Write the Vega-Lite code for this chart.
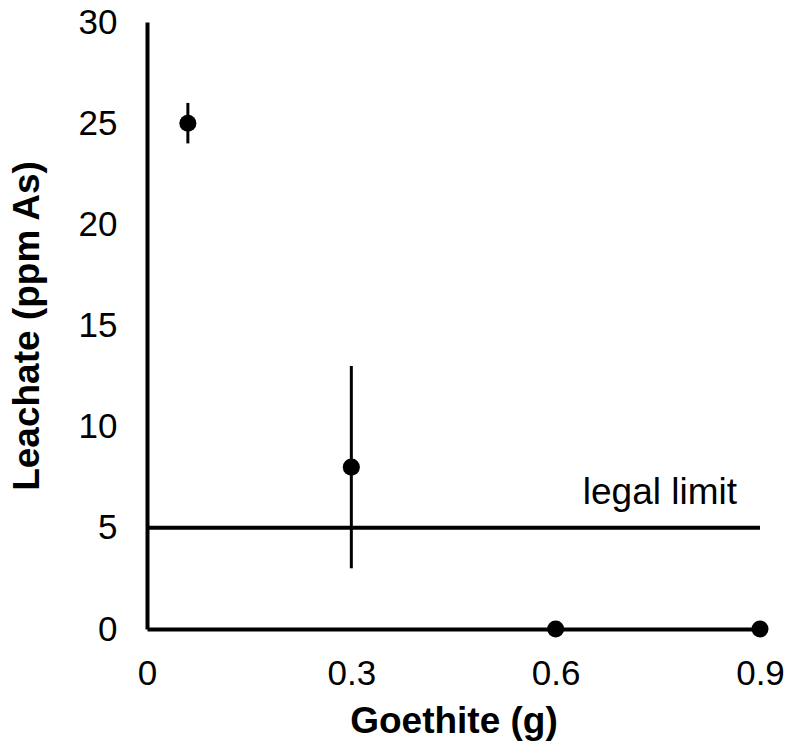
{
  "$schema": "https://vega.github.io/schema/vega-lite/v6.json",
  "width": 613,
  "height": 607,
  "autosize": "none",
  "padding": {"left": 147, "top": 22, "right": 30, "bottom": 117},
  "background": "white",
  "config": {
    "view": {"stroke": null},
    "font": "Liberation Sans",
    "axis": {
      "grid": false,
      "ticks": false,
      "domainColor": "black",
      "domainWidth": 4,
      "labelColor": "black",
      "labelFont": "Liberation Sans",
      "labelFontSize": 35,
      "labelFlush": false,
      "labelOverlap": false,
      "titleFont": "Liberation Sans",
      "titleFontSize": 37,
      "titleFontWeight": "bold",
      "titleColor": "black"
    }
  },
  "datasets": {
    "points": [
      {"goethite": 0.06, "leachate": 25, "low": 24, "high": 26},
      {"goethite": 0.3, "leachate": 8, "low": 3, "high": 13},
      {"goethite": 0.6, "leachate": 0, "low": 0, "high": 0},
      {"goethite": 0.9, "leachate": 0, "low": 0, "high": 0}
    ],
    "limit": [
      {"x0": 0, "x1": 0.9, "y": 5, "label": "legal limit", "lx": 0.753, "ly": 6.7}
    ]
  },
  "layer": [
    {
      "data": {"name": "limit"},
      "mark": {"type": "rule", "strokeWidth": 4, "color": "black"},
      "encoding": {
        "x": {"field": "x0", "type": "quantitative", "scale": {"domain": [0, 0.9]}, "axis": {"values": [0, 0.3, 0.6, 0.9], "title": "Goethite (g)", "labelPadding": 27, "titlePadding": 12, "format": "~g"}},
        "x2": {"field": "x1"},
        "y": {"field": "y", "type": "quantitative"}
      }
    },
    {
      "data": {"name": "limit"},
      "mark": {"type": "text", "fontSize": 37, "font": "Liberation Sans", "color": "black", "align": "center", "baseline": "middle"},
      "encoding": {
        "x": {"field": "lx", "type": "quantitative"},
        "y": {"field": "ly", "type": "quantitative"},
        "text": {"field": "label"}
      }
    },
    {
      "data": {"name": "points"},
      "mark": {"type": "rule", "strokeWidth": 3, "color": "black"},
      "encoding": {
        "x": {"field": "goethite", "type": "quantitative"},
        "y": {"field": "low", "type": "quantitative", "scale": {"domain": [0, 30]}, "axis": {"values": [0, 5, 10, 15, 20, 25, 30], "title": "Leachate (ppm As)", "labelPadding": 30, "titlePadding": 32}},
        "y2": {"field": "high"}
      }
    },
    {
      "data": {"name": "points"},
      "mark": {"type": "point", "filled": true, "shape": "circle", "size": 290, "color": "black", "opacity": 1},
      "encoding": {
        "x": {"field": "goethite", "type": "quantitative"},
        "y": {"field": "leachate", "type": "quantitative"}
      }
    }
  ]
}
